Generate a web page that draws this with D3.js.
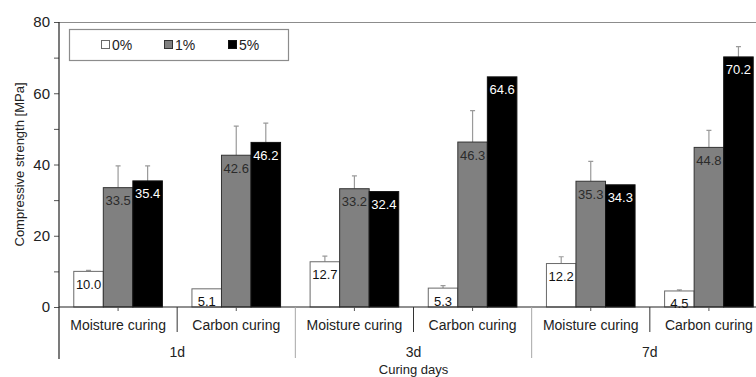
<!DOCTYPE html>
<html>
<head>
<meta charset="utf-8">
<script src="https://cdn.jsdelivr.net/npm/d3@7"></script>
<style>
  body { margin: 0; background: #fff; }
  svg { display: block; font-family: "Liberation Sans", Arial, sans-serif; }
</style>
</head>
<body>
<div id="chart"></div>
<script>
// data
const days = ["1d", "3d", "7d"];
const curing = ["Moisture curing", "Carbon curing"];
const series = ["0%", "1%", "5%"];
const values0 = [10.0, 5.1, 12.7, 5.3, 12.2, 4.5];
const values1 = [33.5, 42.6, 33.2, 46.3, 35.3, 44.8];
const values5 = [35.4, 46.2, 32.4, 64.6, 34.3, 70.2];
// top of the error bars
const errTop0 = [10.3, 5.3, 14.3, 6.0, 14.1, 4.8];
const errTop1 = [39.6, 50.8, 36.8, 55.1, 40.9, 49.6];
const errTop5 = [39.6, 51.6, 32.4, 64.8, 34.5, 73.1];
const yTicks = [0, 20, 40, 60, 80];

const colors = { "0%": "#ffffff", "1%": "#808080", "5%": "#000000" };
const labelColors = { "0%": "#111", "1%": "#2b2b2b", "5%": "#ffffff" };
const strokes = { "0%": "#6a6a6a", "1%": "#333", "5%": "#111" };

const width = 756, height = 377;
const plotL = 59, plotR = 768, plotT = 22, plotB = 307;

const categories = [];
days.forEach(d => curing.forEach(c => categories.push(d + "|" + c)));

const rows = categories.map((c, i) => ({
  cat: c,
  bars: [
    { s: "0%", v: values0[i], e: errTop0[i] },
    { s: "1%", v: values1[i], e: errTop1[i] },
    { s: "5%", v: values5[i], e: errTop5[i] }
  ]
}));

const svg = d3.select("#chart").append("svg")
  .attr("width", width).attr("height", height);

const x0 = d3.scaleBand().domain(categories).range([plotL, plotR]).padding(0);
const x1 = d3.scaleBand().domain(series).range([0, x0.bandwidth()])
  .paddingInner(0).paddingOuter(0.5);
const xDay = d3.scaleBand().domain(days).range([plotL, plotR]).padding(0);
const y = d3.scaleLinear().domain([0, 80]).range([plotB, plotT]);

// top border of plot area
svg.append("line")
  .attr("x1", plotL).attr("x2", plotR)
  .attr("y1", plotT + 0.5).attr("y2", plotT + 0.5)
  .attr("stroke", "#8c8c8c").attr("stroke-width", 1.2);

// y axis with minor ticks
const yAxis = svg.append("g").attr("transform", `translate(${plotL},0)`)
  .call(d3.axisLeft(y).tickValues(d3.range(0, 81, 10)).tickSize(5).tickPadding(4)
    .tickFormat(d => yTicks.includes(d) ? d : ""));
yAxis.select(".domain").remove();
yAxis.selectAll(".tick line").attr("stroke", "#555");
yAxis.selectAll("text").attr("font-size", 15).attr("fill", "#222");

svg.append("line")
  .attr("x1", plotL).attr("x2", plotL).attr("y1", plotT).attr("y2", 359)
  .attr("stroke", "#222").attr("stroke-width", 1.2);

// bars
const groups = svg.selectAll(".grp").data(rows).enter().append("g")
  .attr("class", "grp")
  .attr("transform", d => `translate(${x0(d.cat)},0)`);

groups.selectAll(".err").data(d => d.bars.filter(b => b.e > b.v + 0.2)).enter()
  .append("path")
  .attr("class", "err")
  .attr("d", b => {
    const cx = x1(b.s) + x1.bandwidth() / 2;
    return `M${cx},${y(b.v)}V${y(b.e)}M${cx - 2.5},${y(b.e)}H${cx + 2.5}`;
  })
  .attr("stroke", "#9a9a9a").attr("fill", "none").attr("stroke-width", 1.2);

groups.selectAll(".bar").data(d => d.bars).enter().append("rect")
  .attr("class", "bar")
  .attr("x", b => x1(b.s))
  .attr("y", b => y(b.v))
  .attr("width", x1.bandwidth())
  .attr("height", b => y(0) - y(b.v))
  .attr("fill", b => colors[b.s])
  .attr("stroke", b => strokes[b.s]).attr("stroke-width", 1);

groups.selectAll(".lbl").data(d => d.bars).enter().append("text")
  .attr("class", "lbl")
  .attr("x", b => x1(b.s) + x1.bandwidth() / 2)
  .attr("y", b => y(b.v) + 17.5)
  .attr("text-anchor", "middle")
  .attr("font-size", 13)
  .attr("fill", b => labelColors[b.s])
  .text(b => b.v.toFixed(1));

// x axis baseline
svg.append("line")
  .attr("x1", plotL).attr("x2", plotR).attr("y1", plotB).attr("y2", plotB)
  .attr("stroke", "#222").attr("stroke-width", 1.2);

// center ticks
svg.selectAll(".ctick").data(categories).enter().append("line")
  .attr("x1", d => x0(d) + x0.bandwidth() / 2).attr("x2", d => x0(d) + x0.bandwidth() / 2)
  .attr("y1", plotB).attr("y2", plotB + 4)
  .attr("stroke", "#555");

// separators between curing types inside a day
svg.selectAll(".sep").data(days).enter().append("line")
  .attr("x1", d => xDay(d) + xDay.bandwidth() / 2).attr("x2", d => xDay(d) + xDay.bandwidth() / 2)
  .attr("y1", plotB).attr("y2", 332)
  .attr("stroke", "#333").attr("stroke-width", 1);

// separators between days
svg.selectAll(".dsep").data(days.slice(1)).enter().append("line")
  .attr("x1", d => xDay(d)).attr("x2", d => xDay(d))
  .attr("y1", plotB).attr("y2", 358)
  .attr("stroke", "#a8a8a8").attr("stroke-width", 1);

// category labels
svg.selectAll(".clbl").data(categories).enter().append("text")
  .attr("x", d => x0(d) + x0.bandwidth() / 2)
  .attr("y", 330)
  .attr("text-anchor", "middle")
  .attr("font-size", 14).attr("fill", "#222")
  .text(d => d.split("|")[1]);

svg.selectAll(".dlbl").data(days).enter().append("text")
  .attr("x", d => xDay(d) + xDay.bandwidth() / 2)
  .attr("y", 357)
  .attr("text-anchor", "middle")
  .attr("font-size", 14).attr("fill", "#222")
  .text(d => d);

svg.append("text")
  .attr("x", (plotL + plotR) / 2).attr("y", 374)
  .attr("text-anchor", "middle")
  .attr("font-size", 13).attr("fill", "#222")
  .text("Curing days");

svg.append("text")
  .attr("transform", `translate(24,${(plotT + plotB) / 2}) rotate(-90)`)
  .attr("text-anchor", "middle")
  .attr("font-size", 13).attr("fill", "#222")
  .text("Compressive strength [MPa]");

// legend
const legend = svg.append("g");
legend.append("rect")
  .attr("x", 69.5).attr("y", 29.5).attr("width", 219).attr("height", 31)
  .attr("fill", "#fff").attr("stroke", "#8c8c8c").attr("stroke-width", 1.2);
const legX = d3.scaleOrdinal().domain(series).range([101, 164, 228]);
const li = legend.selectAll(".li").data(series).enter().append("g")
  .attr("transform", s => `translate(${legX(s)},45)`);
li.append("rect")
  .attr("x", 0.5).attr("y", -4.5).attr("width", 8).attr("height", 8)
  .attr("fill", s => colors[s]).attr("stroke", s => strokes[s]);
li.append("text")
  .attr("x", 11).attr("y", 5)
  .attr("font-size", 14).attr("fill", "#222")
  .text(s => s);
</script>
</body>
</html>
